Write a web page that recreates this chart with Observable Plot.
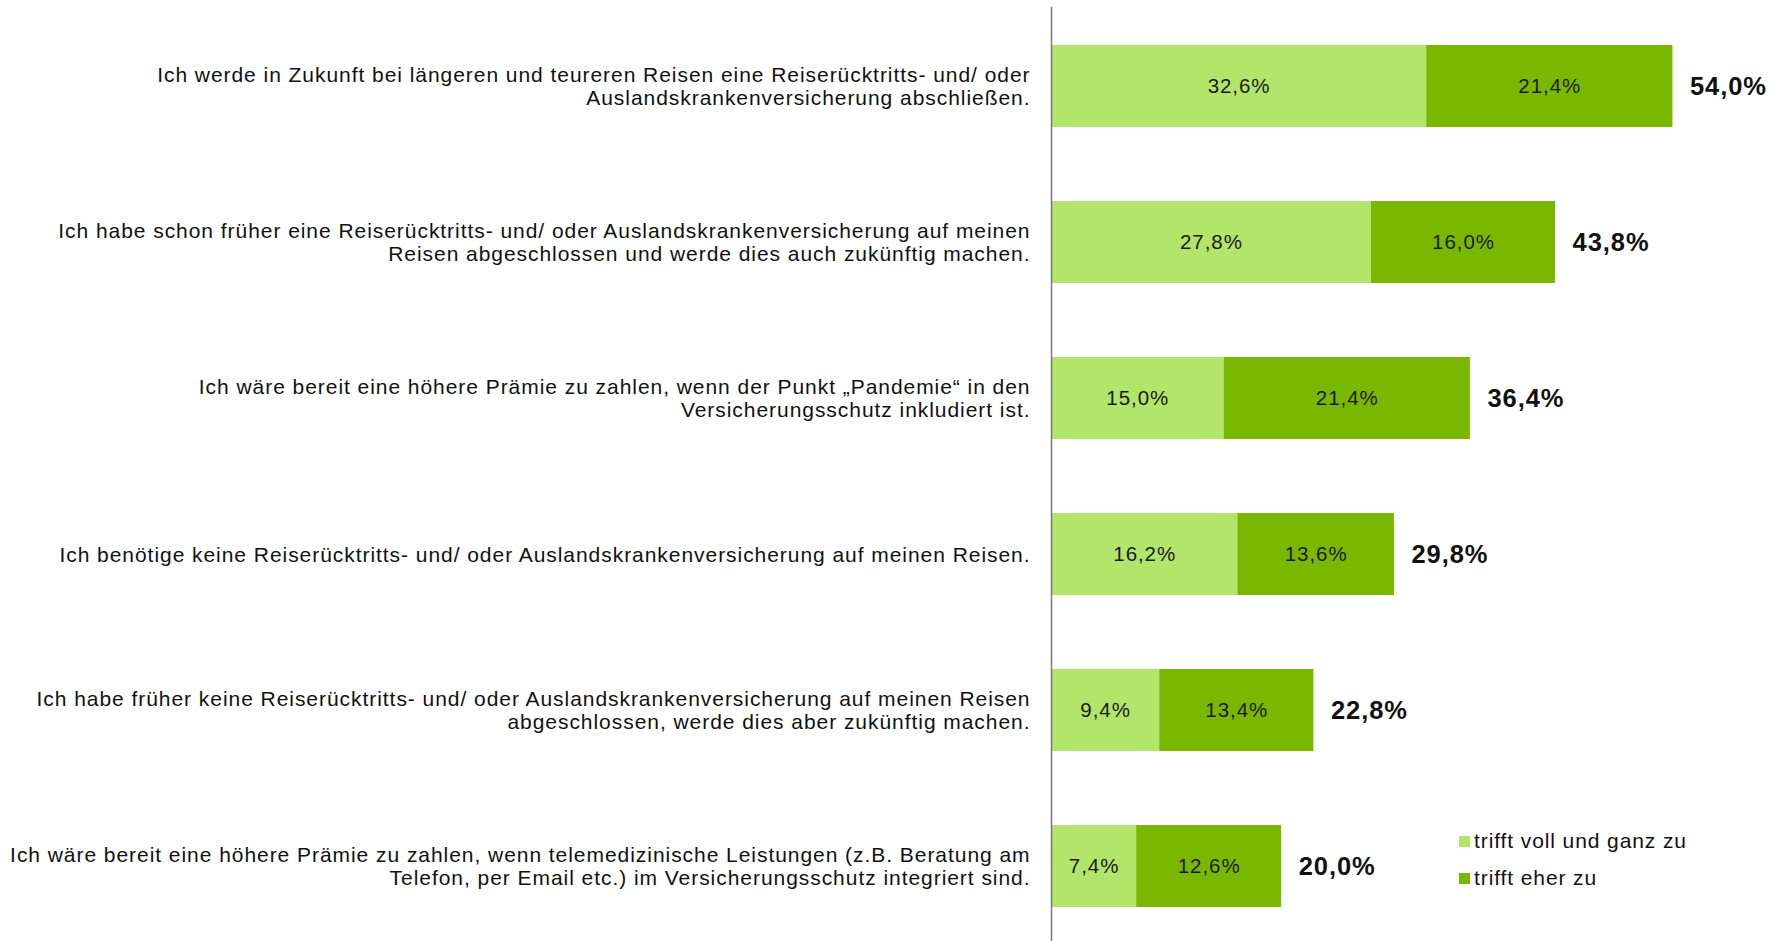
<!DOCTYPE html>
<html>
<head>
<meta charset="utf-8">
<script src="https://cdn.jsdelivr.net/npm/d3@7"></script>
<script src="https://cdn.jsdelivr.net/npm/@observablehq/plot@0.6"></script>
<style>
  html, body { margin: 0; padding: 0; background: #fff; }
  #wrap { position: relative; width: 1781px; height: 941px; font-family: "Liberation Sans", Arial, sans-serif; }
  #legend { position: absolute; left: 1459px; top: 822px; font-size: 21px; letter-spacing: 0.9px; color: #111; }
  #legend .item { display: flex; align-items: center; height: 37px; }
  #legend .sw { width: 11px; height: 11px; margin-right: 4px; margin-top: 2px; }
</style>
</head>
<body>
<div id="wrap"><div id="chart"></div><div id="legend"></div></div>
<script>
const categories = [
  "Ich werde in Zukunft bei längeren und teureren Reisen eine Reiserücktritts- und/ oder\nAuslandskrankenversicherung abschließen.",
  "Ich habe schon früher eine Reiserücktritts- und/ oder Auslandskrankenversicherung auf meinen\nReisen abgeschlossen und werde dies auch zukünftig machen.",
  "Ich wäre bereit eine höhere Prämie zu zahlen, wenn der Punkt „Pandemie“ in den\nVersicherungsschutz inkludiert ist.",
  "Ich benötige keine Reiserücktritts- und/ oder Auslandskrankenversicherung auf meinen Reisen.",
  "Ich habe früher keine Reiserücktritts- und/ oder Auslandskrankenversicherung auf meinen Reisen\nabgeschlossen, werde dies aber zukünftig machen.",
  "Ich wäre bereit eine höhere Prämie zu zahlen, wenn telemedizinische Leistungen (z.B. Beratung am\nTelefon, per Email etc.) im Versicherungsschutz integriert sind."
];
const seriesNames = ["trifft voll und ganz zu", "trifft eher zu"];
const seriesColors = ["#b2e56a", "#7ab800"];
const vollUndGanz = [32.6, 27.8, 15.0, 16.2, 9.4, 7.4];
const eherZu = [21.4, 16.0, 21.4, 13.6, 13.4, 12.6];
const totals = [54.0, 43.8, 36.4, 29.8, 22.8, 20.0];

const fmt = v => v.toFixed(1).replace(".", ",") + "%";

const segs = [];
categories.forEach((c, i) => {
  segs.push({cat: c, series: seriesNames[0], x1: 0, x2: vollUndGanz[i], v: vollUndGanz[i]});
  segs.push({cat: c, series: seriesNames[1], x1: vollUndGanz[i], x2: vollUndGanz[i] + eherZu[i], v: eherZu[i]});
});
const totalRows = categories.map((c, i) => ({cat: c, total: totals[i]}));

const chart = Plot.plot({
  width: 1781,
  height: 941,
  marginTop: 7,
  marginBottom: 0,
  marginLeft: 1051,
  marginRight: 5,
  style: {fontFamily: "'Liberation Sans', Arial, sans-serif", background: "white", color: "#111", letterSpacing: "0.95px"},
  x: {domain: [0, 63], axis: null},
  y: {domain: categories, range: [7, 945], padding: 0, axis: null},
  color: {domain: seriesNames, range: seriesColors},
  marks: [
    Plot.barX(segs, {x1: "x1", x2: "x2", y: "cat", fill: "series", insetTop: 37, insetBottom: 37}),
    Plot.text(segs, {x: d => (d.x1 + d.x2) / 2, y: "cat", text: d => fmt(d.v), fontSize: 20.5, fill: "#1a1a1a"}),
    Plot.text(totalRows, {x: "total", y: "cat", text: d => fmt(d.total), dx: 17, textAnchor: "start", fontSize: 25.5, fontWeight: "bold", fill: "#111"}),
    Plot.ruleX([0], {stroke: "#777", strokeWidth: 1.5}),
    Plot.axisY({tickSize: 0, tickPadding: 21, fontSize: 21, lineHeight: 1.1, fill: "#111", label: null})
  ]
});
document.getElementById("chart").appendChild(chart);

const legend = document.getElementById("legend");
seriesNames.forEach((n, i) => {
  const item = document.createElement("div");
  item.className = "item";
  const sw = document.createElement("span");
  sw.className = "sw";
  sw.style.background = seriesColors[i];
  const t = document.createElement("span");
  t.textContent = n;
  item.appendChild(sw);
  item.appendChild(t);
  legend.appendChild(item);
});
</script>
</body>
</html>
